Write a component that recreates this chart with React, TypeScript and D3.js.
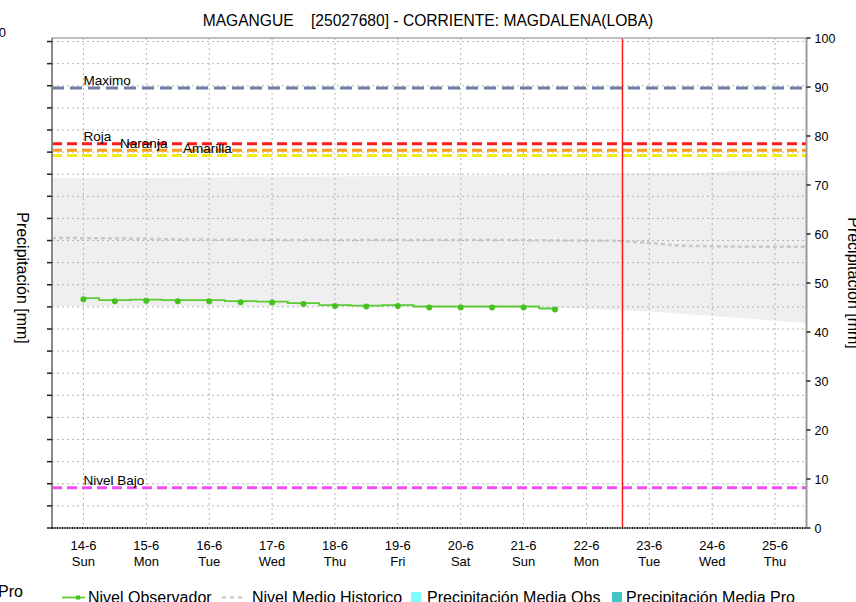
import * as d3 from "d3";

const W = 856;
const H = 602;
const LEFT = 52;
const RIGHT = 806.5;
const TOP = 38;
const BOTTOM = 528;
const FONT = "'Liberation Sans', Arial, sans-serif";

const TITLE = "MAGANGUE    [25027680] - CORRIENTE: MAGDALENA(LOBA)";

// x domain (half a day either side of the first/last labelled day)
const X_START = "2020-06-13T12:00";
const X_END = "2020-06-25T12:00";
const DAY_TICKS = [
  "2020-06-14", "2020-06-15", "2020-06-16", "2020-06-17", "2020-06-18", "2020-06-19",
  "2020-06-20", "2020-06-21", "2020-06-22", "2020-06-23", "2020-06-24", "2020-06-25",
];
const WEEKDAYS = ["Sun", "Mon", "Tue", "Wed", "Thu", "Fri", "Sat"];
const NOW = "2020-06-22T13:45";

// observed level, every 12 h
const OBS_DATES = [
  "2020-06-14T00:00", "2020-06-14T12:00", "2020-06-15T00:00", "2020-06-15T12:00",
  "2020-06-16T00:00", "2020-06-16T12:00", "2020-06-17T00:00", "2020-06-17T12:00",
  "2020-06-18T00:00", "2020-06-18T12:00", "2020-06-19T00:00", "2020-06-19T12:00",
  "2020-06-20T00:00", "2020-06-20T12:00", "2020-06-21T00:00", "2020-06-21T12:00",
];
const OBS_LEVEL = [
  46.9, 46.5, 46.6, 46.5, 46.5, 46.3, 46.2, 45.9,
  45.5, 45.4, 45.5, 45.2, 45.2, 45.2, 45.2, 44.8,
];

// historic mean and its band
const HIST_DATES = [
  "2020-06-13T12:00", "2020-06-14T12:00", "2020-06-15T12:00", "2020-06-16T12:00",
  "2020-06-17T12:00", "2020-06-18T12:00", "2020-06-19T12:00", "2020-06-20T12:00",
  "2020-06-21T12:00", "2020-06-22T12:00", "2020-06-23T00:00", "2020-06-23T12:00",
  "2020-06-24T12:00", "2020-06-25T12:00",
];
const HIST_MEAN = [59.2, 59.1, 58.9, 58.8, 58.8, 58.8, 58.8, 58.8, 58.7, 58.6, 58.2, 57.6, 57.4, 57.4];
const HIST_MAX = [71.4, 71.4, 71.5, 71.7, 71.7, 71.8, 71.9, 72.0, 72.2, 72.4, 72.4, 72.4, 72.9, 73.1];
const HIST_MIN = [45.3, 45.3, 45.3, 45.2, 45.2, 45.1, 45.0, 45.0, 44.9, 44.5, 44.2, 43.7, 42.8, 41.8];

// alert levels
const LEVEL_NAMES = ["Maximo", "Roja", "Naranja", "Amarilla", "Nivel Bajo"];
const LEVEL_VALUES = [89.8, 78.4, 77.1, 76.0, 8.2];
const LEVEL_COLORS = ["#6e7ca6", "#ff1a1a", "#ff9c1a", "#f2ea1e", "#f04ef0"];
const LEVEL_LABEL_AT = [
  "2020-06-14T00:00", "2020-06-14T00:00", "2020-06-14T14:00", "2020-06-15T14:00", "2020-06-14T00:00",
];

const RIGHT_TICKS = d3.range(0, 101, 10);
// left (precipitation) axis: labels fall outside the page
const LEFT_MAX = 110.8;
const LEFT_TICKS = d3.range(0, 111, 5);

const LEGEND = [
  { label: "Nivel Observador", kind: "obs", x: 62, tx: 88 },
  { label: "Nivel Medio Historico", kind: "hist", x: 222, tx: 252 },
  { label: "Precipitación Media Obs", kind: "box", color: "#7ffcff", x: 411, tx: 427 },
  { label: "Precipitación Media Pro", kind: "box", color: "#45c6c6", x: 612, tx: 626 },
];

const t = (s: string) => new Date(s);

export default function App() {
  const x = d3.scaleTime().domain([t(X_START), t(X_END)]).range([LEFT, RIGHT]);
  const y = d3.scaleLinear().domain([0, 100]).range([BOTTOM, TOP]);
  const yl = d3.scaleLinear().domain([0, LEFT_MAX]).range([BOTTOM, TOP]);

  const band = d3
    .area<number>()
    .x((i) => x(t(HIST_DATES[i])))
    .y0((i) => y(HIST_MIN[i]))
    .y1((i) => y(HIST_MAX[i]));
  const meanLine = d3
    .line<number>()
    .x((i) => x(t(HIST_DATES[i])))
    .y((i) => y(HIST_MEAN[i]));
  const obsLine = d3
    .line<number>()
    .curve(d3.curveStep)
    .x((i) => x(t(OBS_DATES[i])))
    .y((i) => y(OBS_LEVEL[i]));

  const histIdx = d3.range(HIST_DATES.length);
  const obsIdx = d3.range(OBS_DATES.length);

  return (
    <svg
      width={W}
      height={H}
      style={{ position: "absolute", left: 0, top: 0, background: "#fff" }}
      fontFamily={FONT}
    >
      <rect width={W} height={H} fill="#fff" />
      <text x={428} y={26} textAnchor="middle" fontSize={15.6} style={{ whiteSpace: "pre" }}>
        {TITLE}
      </text>
      {/* clipped left-axis label */}
      <text x={6} y={37} textAnchor="end" fontSize={13}>100</text>

      {/* historic band */}
      <path d={band(histIdx) ?? ""} fill="#efefef" />

      {/* grid */}
      {LEFT_TICKS.map((v) => (
        <line key={"h" + v} x1={LEFT} x2={RIGHT} y1={yl(v)} y2={yl(v)} stroke="#b4b4b4" strokeDasharray="2,3" />
      ))}
      {DAY_TICKS.map((d) => (
        <line key={"v" + d} x1={x(t(d + "T00:00"))} x2={x(t(d + "T00:00"))} y1={TOP} y2={BOTTOM} stroke="#b4b4b4" strokeDasharray="2,3" />
      ))}

      {/* historic mean */}
      <path d={meanLine(histIdx) ?? ""} fill="none" stroke="#c8c8c8" strokeWidth={2.5} strokeDasharray="4,3" />

      {/* alert levels */}
      {LEVEL_NAMES.map((name, i) => (
        <g key={name}>
          <line
            x1={LEFT}
            x2={RIGHT}
            y1={y(LEVEL_VALUES[i])}
            y2={y(LEVEL_VALUES[i])}
            stroke={LEVEL_COLORS[i]}
            strokeWidth={3}
            strokeDasharray={i === 0 ? "12,6" : "10,5"}
          />
          <text x={x(t(LEVEL_LABEL_AT[i]))} y={y(LEVEL_VALUES[i]) - 2.5} fontSize={13.5} fill="#000">
            {name}
          </text>
        </g>
      ))}

      {/* observed level */}
      <path d={obsLine(obsIdx) ?? ""} fill="none" stroke="#5ccc35" strokeWidth={1.8} />
      {obsIdx.map((i) => (
        <circle key={i} cx={x(t(OBS_DATES[i]))} cy={y(OBS_LEVEL[i]) + 1} r={3} fill="#46c21f" />
      ))}

      {/* now */}
      <line x1={x(t(NOW))} x2={x(t(NOW))} y1={TOP} y2={BOTTOM} stroke="#ff1a1a" strokeWidth={1.5} />

      {/* frame & axes */}
      <line x1={LEFT} x2={RIGHT} y1={TOP} y2={TOP} stroke="#a8a8a8" strokeWidth={1.5} />
      <line x1={LEFT} x2={LEFT} y1={TOP} y2={BOTTOM + 1} stroke="#8a8a8a" strokeWidth={2} />
      <line x1={RIGHT} x2={RIGHT} y1={TOP} y2={BOTTOM + 1} stroke="#9a9a9a" strokeWidth={2} />
      <line x1={LEFT} x2={RIGHT} y1={BOTTOM} y2={BOTTOM} stroke="#9a9a9a" strokeWidth={2} />
      <line x1={LEFT} x2={RIGHT} y1={BOTTOM} y2={BOTTOM} stroke="#111" strokeWidth={2} strokeDasharray="1,1.5" />

      {LEFT_TICKS.map((v) => (
        <line key={"lt" + v} x1={LEFT - 5} x2={LEFT} y1={yl(v)} y2={yl(v)} stroke="#222" strokeWidth={1.5} />
      ))}
      {RIGHT_TICKS.map((v) => (
        <g key={"rt" + v}>
          <line x1={RIGHT} x2={RIGHT + 4} y1={y(v)} y2={y(v)} stroke="#222" strokeWidth={1.5} />
          <text x={RIGHT + 8} y={y(v) + 4.5} fontSize={12.5} fill="#000">{v}</text>
        </g>
      ))}

      {DAY_TICKS.map((d) => {
        const date = t(d + "T00:00");
        const cx = x(date);
        return (
          <g key={"xl" + d} fontSize={13} textAnchor="middle" fill="#000">
            <text x={cx} y={550}>{`${date.getDate()}-${date.getMonth() + 1}`}</text>
            <text x={cx} y={566}>{WEEKDAYS[date.getDay()]}</text>
          </g>
        );
      })}

      {/* axis titles */}
      <text transform="translate(17,278) rotate(90)" textAnchor="middle" fontSize={16}>
        Precipitación [mm]
      </text>
      <text transform="translate(848,283) rotate(90)" textAnchor="middle" fontSize={16}>
        Precipitación [mm]
      </text>

      {/* legend */}
      <text x={23} y={597} textAnchor="end" fontSize={16}>Precipitación Media Pro</text>
      {LEGEND.map((item) => (
        <g key={item.label}>
          {item.kind === "obs" && (
            <>
              <line x1={item.x} x2={item.x + 23} y1={597.5} y2={597.5} stroke="#5ccc35" strokeWidth={1.8} />
              <rect x={item.x + 14} y={595.5} width={4} height={4} fill="#46c21f" />
            </>
          )}
          {item.kind === "hist" && (
            <line x1={item.x} x2={item.x + 23} y1={597.5} y2={597.5} stroke="#d0d0d0" strokeWidth={2.5} strokeDasharray="4,4" />
          )}
          {item.kind === "box" && (
            <rect x={item.x} y={592} width={10} height={12} fill={item.color} />
          )}
          <text x={item.tx} y={603} fontSize={16}>{item.label}</text>
        </g>
      ))}
    </svg>
  );
}
